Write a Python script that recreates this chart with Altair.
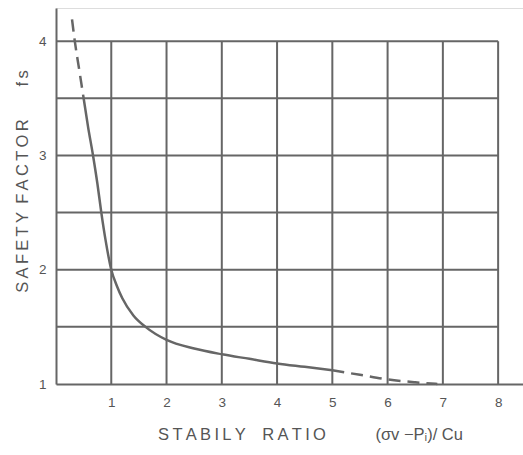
import altair as alt
import pandas as pd

# Curve: stability ratio (x) vs safety factor (y)
top_x = [0.29, 0.34, 0.42, 0.50]
top_y = [4.19, 4.00, 3.75, 3.50]
mid_x = [0.50, 0.58, 0.67, 0.75, 0.82, 0.90, 1.00, 1.10, 1.20, 1.40, 1.62, 2.00, 2.50, 3.00, 3.50, 4.00, 4.50, 5.00]
mid_y = [3.50, 3.25, 3.00, 2.75, 2.50, 2.25, 2.00, 1.86, 1.75, 1.60, 1.50, 1.386, 1.31, 1.26, 1.22, 1.18, 1.15, 1.12]
end_x = [5.00, 5.50, 6.00, 6.50, 6.90]
end_y = [1.12, 1.08, 1.04, 1.015, 1.00]

x_ticks = [1, 2, 3, 4, 5, 6, 7, 8]
y_ticks = [1, 2, 3, 4]
h_grid = [1.5, 2.0, 2.5, 3.0, 3.5, 4.0]
v_grid = [1, 2, 3, 4, 5, 6, 7, 8]

GREY = "#666666"
TXT = "#555555"


def spaced(s, sep="\u2009"):
    return sep.join(list(s))


x_title = spaced("STABILY") + "\u2003" + spaced("RATIO") + "\u2003\u2003\u2003" + "(σv −Pᵢ)/ Cu"
y_title = spaced("SAFETY") + "\u2002" + spaced("FACTOR") + "\u2003\u2003" + spaced("fs")

xs = alt.Scale(domain=[0, 8.45], nice=False, zero=False)
ys = alt.Scale(domain=[1, 4.29], nice=False, zero=False)

vg = pd.DataFrame({"x": v_grid, "y": [1] * len(v_grid), "y2": [4] * len(v_grid)})
hg = pd.DataFrame({"y": h_grid, "x": [0] * len(h_grid), "x2": [8] * len(h_grid)})

xaxis = alt.Axis(values=x_ticks, format="d", grid=False, ticks=False, tickSize=0, domainColor=GREY, domainWidth=2,
                 labelColor=TXT, labelFontSize=13.5, labelPadding=11, labelFont="Liberation Sans",
                 title=x_title, titleFontSize=16.5, titleFontWeight="normal", titleColor=TXT,
                 titleFont="Liberation Sans", titleX=254, titleY=55, titleAlign="center",
                 titleBaseline="alphabetic", titleAnchor="middle")
yaxis = alt.Axis(values=y_ticks, format="d", grid=False, ticks=False, tickSize=0, domainColor=GREY, domainWidth=2,
                 labelColor=TXT, labelFontSize=13.5, labelPadding=10, labelFont="Liberation Sans",
                 title=y_title, titleFontSize=16.5, titleFontWeight="normal", titleColor=TXT,
                 titleFont="Liberation Sans", titleX=-34, titleY=173, titleAlign="center",
                 titleBaseline="middle", titleAngle=270)

vrules = alt.Chart(vg).mark_rule(color=GREY, strokeWidth=2).encode(
    x=alt.X("x:Q", scale=xs, axis=xaxis),
    y=alt.Y("y:Q", scale=ys, axis=yaxis),
    y2="y2:Q",
)
hrules = alt.Chart(hg).mark_rule(color=GREY, strokeWidth=2).encode(
    x=alt.X("x:Q", scale=xs),
    x2="x2:Q",
    y=alt.Y("y:Q", scale=ys),
)


def curve(xv, yv, dash=None):
    df = pd.DataFrame({"x": xv, "y": yv})
    kw = dict(color=GREY, strokeWidth=2.5, interpolate="monotone")
    if dash:
        kw["strokeDash"] = dash
    return alt.Chart(df).mark_line(**kw).encode(
        x=alt.X("x:Q", scale=xs), y=alt.Y("y:Q", scale=ys)
    )


chart = alt.layer(
    vrules, hrules,
    curve(top_x, top_y, [12, 7]),
    curve(mid_x, mid_y),
    curve(end_x, end_y, [12, 7]),
).properties(
    width=467, height=376,
    autosize=alt.AutoSizeParams(type="none"),
    padding={"left": 56, "top": 8, "right": 0, "bottom": 71},
).configure_view(stroke=None).configure(background="white")

chart.save("out.html", embed_options={"renderer": "svg", "actions": False})
